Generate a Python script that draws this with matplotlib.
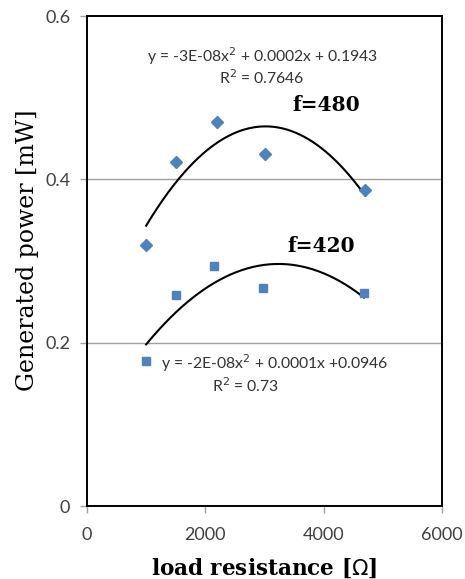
import numpy as np
import matplotlib.pyplot as plt

# =====================================================
# DATA
# =====================================================

r_480 = [1000, 1500, 2200, 3000, 4700]
p_480 = [0.320, 0.422, 0.470, 0.431, 0.387]

r_420 = [1000, 1500, 2150, 2970, 4680]
p_420 = [0.178, 0.259, 0.294, 0.267, 0.261]

eq_480 = "y = -3E-08x$^2$ + 0.0002x + 0.1943"
r2_480 = "R$^2$ = 0.7646"
eq_420 = "y = -2E-08x$^2$ + 0.0001x +0.0946"
r2_420 = "R$^2$ = 0.73"

x_ticks = [0, 2000, 4000, 6000]
y_ticks = [0, 0.2, 0.4, 0.6]

blue = '#4F81BD'

# =====================================================
# PLOT
# =====================================================

fig = plt.figure(figsize=(4.65, 5.79), dpi=100)
ax = fig.add_axes([0.187, 0.126, 0.764, 0.846])

for y in [0.2, 0.4]:
    ax.axhline(y, color='#a0a0a0', linewidth=1, zorder=0)

# second order trend lines (least squares fit, like excel)
for r, p in [(r_480, p_480), (r_420, p_420)]:
    c = np.polyfit(r, p, 2)
    xs = np.linspace(min(r), max(r), 200)
    ax.plot(xs, np.polyval(c, xs), color='black', linewidth=1.5, zorder=2)

ax.plot(r_480, p_480, 'D', color=blue, markersize=6.5, linestyle='none', zorder=3)
ax.plot(r_420, p_420, 's', color=blue, markersize=6, linestyle='none', zorder=3)

ax.set_xlim(0, 6000)
ax.set_ylim(0, 0.6)
ax.set_xticks(x_ticks)
ax.set_yticks(y_ticks)
ax.set_xticklabels([str(t) for t in x_ticks])
ax.set_yticklabels(['0', '0.2', '0.4', '0.6'])

for s in ax.spines.values():
    s.set_linewidth(1.4)
    s.set_color('black')

ax.tick_params(direction='out', length=5, color='#a0a0a0', width=1,
               labelsize=13, labelcolor='#404040', pad=7)
ax.tick_params(axis='x', pad=10)
for lab in ax.get_xticklabels() + ax.get_yticklabels():
    lab.set_family('Lato')

# equations
txt = dict(ha='center', va='center', fontsize=11.3, family='Lato', color='#333333')
ax.text(2967, 0.551, eq_480, **txt)
ax.text(2960, 0.525, r2_480, **txt)
ax.text(3178, 0.1755, eq_420, **txt)
ax.text(2671, 0.148, r2_420, **txt)

# frequency labels
ax.text(4040, 0.491, 'f=480', ha='center', va='center', fontsize=14.5,
        family='DejaVu Serif', fontweight='bold')
ax.text(3956, 0.319, 'f=420', ha='center', va='center', fontsize=14.5,
        family='DejaVu Serif', fontweight='bold')

ax.set_xlabel('load resistance [$\\Omega$]', family='DejaVu Serif',
              fontweight='bold', fontsize=15.5, labelpad=10)
ax.set_ylabel('Generated power [mW]', family='DejaVu Serif', fontsize=17)
ax.yaxis.set_label_coords(-0.135, 0.522)

plt.savefig('out.png', dpi=100)
